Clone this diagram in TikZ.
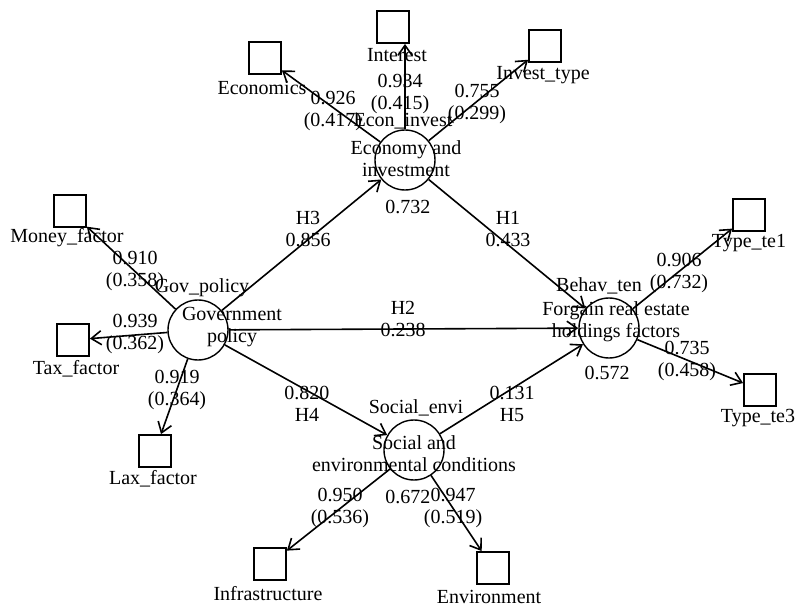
\documentclass[tikz,border=0pt]{standalone}
\usepackage{fontspec}
\setmainfont{Liberation Serif}
\usetikzlibrary{arrows.meta}

\begin{document}
\begin{tikzpicture}[->, >={Straight Barb[length=5pt,width=7pt]}, line width=0.8pt,
    x=0.5pt, y=-0.5pt, font=\fontsize{10}{11}\selectfont,
    latent/.style={circle, draw, line width=0.7pt, minimum size=30pt, inner sep=0pt},
    ind/.style={rectangle, draw, line width=0.9pt, minimum size=16pt, inner sep=0pt},
    txt/.style={align=center, inner sep=0pt}]
    \useasboundingbox (0,0) rectangle (800,605);

    % latent variables
    \node [latent] (econ) at (405,160) {};
    \node [latent] (gov) at (198,330) {};
    \node [latent] (behav) at (609,328) {};
    \node [latent] (soc) at (414,450) {};

    \node [txt] (econN) at (403,121) {Econ\_invest};
    \node [txt] (econT) at (406,159) {Economy and\\investment};
    \node [txt] (econR) at (408,207) {0.732};
    \node [txt] (govN) at (202,288) {Gov\_policy};
    \node [txt] (govT) at (232,327) {Government\\policy};
    \node [txt] (behavN) at (599,286) {Behav\_ten};
    \node [txt] (behavT) at (616,322) {Forgain real estate\\holdings factors};
    \node [txt] (behavR) at (607,373) {0.572};
    \node [txt] (socN) at (416,408) {Social\_envi};
    \node [txt] (socT) at (414,454) {Social and\\environmental conditions};
    \node [txt] (socR) at (408,497) {0.672};

    % indicators
    \node [ind] (economics) at (265,58) {};
    \node [ind] (interest) at (393,27) {};
    \node [ind] (investtype) at (545,46) {};
    \node [ind] (money) at (70,211) {};
    \node [ind] (tax) at (73,340) {};
    \node [ind] (lax) at (155,451) {};
    \node [ind] (te1) at (749,215) {};
    \node [ind] (te3) at (760,390) {};
    \node [ind] (infra) at (270,564) {};
    \node [ind] (env) at (493,568) {};

    \node [txt] (economicsL) at (262,88) {Economics};
    \node [txt] (interestL) at (397,55) {Interest};
    \node [txt] (investtypeL) at (543,75) {Invest\_type};
    \node [txt] (moneyL) at (67,238) {Money\_factor};
    \node [txt] (taxL) at (76,369) {Tax\_factor};
    \node [txt] (laxL) at (153,479) {Lax\_factor};
    \node [txt] (te1L) at (749,243) {Type\_te1};
    \node [txt] (te3L) at (758,418) {Type\_te3};
    \node [txt] (infraL) at (268,594) {Infrastructure};
    \node [txt] (envL) at (489,597) {Environment};

    % outer loadings
    \path (econ) edge (economics);
    \path (econ.north) edge (econ.north |- interest.south);
    \path (econ) edge (investtype);
    \path (gov) edge (money);
    \path (gov) edge (tax);
    \path (gov) edge (lax);
    \path (behav) edge (te1);
    \path (behav) edge (te3);
    \path (soc) edge (infra);
    \path (soc) edge (env);

    \node [txt] (l1) at (333,111) {0.926\\(0.417)};
    \node [txt] (l2) at (400,94) {0.934\\(0.415)};
    \node [txt] (l3) at (477,104) {0.755\\(0.299)};
    \node [txt] (l4) at (135,271) {0.910\\(0.358)};
    \node [txt] (l5) at (135,334) {0.939\\(0.362)};
    \node [txt] (l6) at (177,390) {0.919\\(0.364)};
    \node [txt] (l7) at (679,273) {0.906\\(0.732)};
    \node [txt] (l8) at (687,361) {0.735\\(0.458)};
    \node [txt] (l9) at (340,508) {0.950\\(0.536)};
    \node [txt] (l10) at (453,508) {0.947\\(0.519)};

    % paths
    \path (gov) edge (econ);
    \path (econ) edge (behav);
    \path (gov) edge (behav);
    \path (gov) edge (soc);
    \path (soc) edge (behav);

    \node [txt] (h3) at (308,229) {H3\\0.856};
    \node [txt] (h1) at (508,229) {H1\\0.433};
    \node [txt] (h2) at (403,319) {H2\\0.238};
    \node [txt] (h4) at (307,404) {0.820\\H4};
    \node [txt] (h5) at (512,404) {0.131\\H5};
\end{tikzpicture}
\end{document}
